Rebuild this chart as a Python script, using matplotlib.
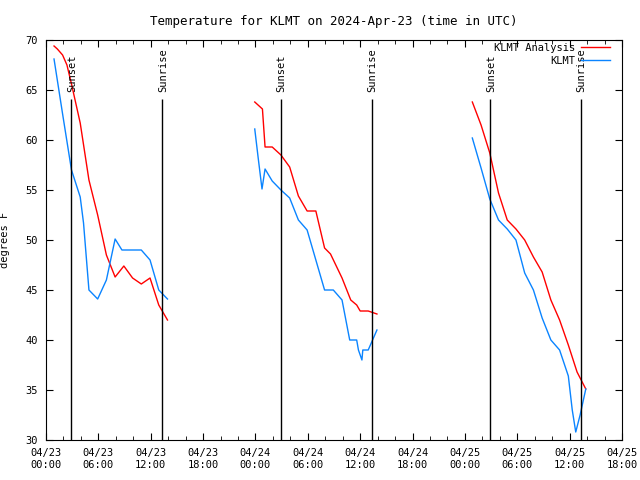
import matplotlib
matplotlib.use("Agg")
import matplotlib.pyplot as plt
from matplotlib.ticker import MultipleLocator

# hours since 04/23 00:00 UTC, degrees F
analysis_t = [
    [0.92, 1.3, 1.9, 2.4, 2.92, 3.92, 4.92, 5.92, 6.92, 7.92, 8.92, 9.92, 10.92, 11.92, 12.92, 13.92],
    [23.92, 24.8, 25.1, 25.92, 26.92, 27.92, 28.92, 29.92, 30.92, 31.92, 32.6, 33.92, 34.92, 35.6, 36.0, 36.92, 37.92],
    [48.85, 49.85, 50.85, 51.85, 52.85, 53.85, 54.85, 55.85, 56.85, 57.85, 58.85, 59.85, 60.85, 61.85],
]
analysis_temp = [
    [69.4, 69.1, 68.5, 67.5, 65.6, 61.7, 56.0, 52.5, 48.5, 46.3, 47.4, 46.2, 45.6, 46.2, 43.5, 42.0],
    [63.8, 63.1, 59.3, 59.3, 58.5, 57.3, 54.4, 52.9, 52.9, 49.2, 48.6, 46.2, 44.0, 43.5, 42.9, 42.9, 42.6],
    [63.8, 61.5, 58.7, 54.7, 52.0, 51.1, 50.0, 48.3, 46.8, 44.0, 42.0, 39.5, 36.8, 35.1],
]
obs_t = [
    [0.92, 1.92, 2.92, 3.92, 4.3, 4.92, 5.92, 6.92, 7.92, 8.7, 9.92, 10.92, 11.92, 12.92, 13.92],
    [23.92, 24.3, 24.75, 25.1, 25.92, 26.92, 27.92, 28.92, 29.92, 30.92, 31.92, 32.92, 33.92, 34.8, 35.6, 35.8, 36.2, 36.3, 36.92, 37.92],
    [48.85, 49.85, 50.85, 51.85, 52.85, 53.85, 54.85, 55.85, 56.85, 57.85, 58.85, 59.85, 60.3, 60.7, 61.2, 61.85],
]
obs_temp = [
    [68.1, 62.5, 57.0, 54.3, 51.7, 45.0, 44.1, 46.0, 50.1, 49.0, 49.0, 49.0, 48.0, 45.0, 44.1],
    [61.1, 58.3, 55.1, 57.1, 55.9, 55.0, 54.2, 52.0, 51.0, 48.0, 45.0, 45.0, 44.0, 40.0, 40.0, 39.0, 38.0, 39.0, 39.0, 41.0],
    [60.2, 57.2, 54.1, 52.0, 51.1, 50.0, 46.7, 45.0, 42.2, 40.0, 39.0, 36.4, 33.0, 30.8, 32.5, 35.1],
]

sunset_t = [2.87, 26.88, 50.9]
sunrise_t = [13.33, 37.3, 61.25]

tick_t = [0, 6, 12, 18, 24, 30, 36, 42, 48, 54, 60, 66]
tick_labels = ["04/23\n00:00", "04/23\n06:00", "04/23\n12:00", "04/23\n18:00",
               "04/24\n00:00", "04/24\n06:00", "04/24\n12:00", "04/24\n18:00",
               "04/25\n00:00", "04/25\n06:00", "04/25\n12:00", "04/25\n18:00"]

plt.rcParams['font.family'] = ['DejaVu Sans Mono']
plt.rcParams['font.size'] = 7.5

fig = plt.figure(figsize=(6.4, 4.8), dpi=100)
ax = fig.add_axes([46 / 640, 40 / 480, 576 / 640, 400 / 480])

red = '#ff0000'
blue = '#0a84ff'

for i in range(3):
    ax.plot(analysis_t[i], analysis_temp[i], color=red, lw=1,
            label='KLMT Analysis' if i == 0 else None)
    ax.plot(obs_t[i], obs_temp[i], color=blue, lw=1,
            label='KLMT' if i == 0 else None)

# 日の入り・日の出の線
for t in sunset_t:
    ax.vlines(t, 30, 64.1, color='black', lw=1)
    ax.text(t + 0.1, 64.8, 'Sunset', rotation=90, ha='center', va='bottom')
for t in sunrise_t:
    ax.vlines(t, 30, 64.1, color='black', lw=1)
    ax.text(t + 0.1, 64.8, 'Sunrise', rotation=90, ha='center', va='bottom')

ax.set_xlim(0, 66)
ax.set_ylim(30, 70)
ax.set_xticks(tick_t)
ax.set_xticklabels(tick_labels)
ax.xaxis.set_minor_locator(MultipleLocator(2))
ax.yaxis.set_major_locator(MultipleLocator(5))
ax.tick_params(which='both', direction='in', top=True, right=True, pad=6)
ax.tick_params(which='major', length=5)
ax.tick_params(which='minor', length=3)

ax.set_ylabel('degrees F')
ax.yaxis.set_label_coords(-0.062, 0.5)
ax.set_title('Temperature for KLMT on 2024-Apr-23 (time in UTC)', pad=11)

ax.legend(loc='upper right', frameon=False, markerfirst=False,
          handlelength=2.8, borderaxespad=0.2, borderpad=0.1,
          labelspacing=0.25, handletextpad=0.6, bbox_to_anchor=(0.985, 1.0))

fig.savefig('out.png', dpi=100)
